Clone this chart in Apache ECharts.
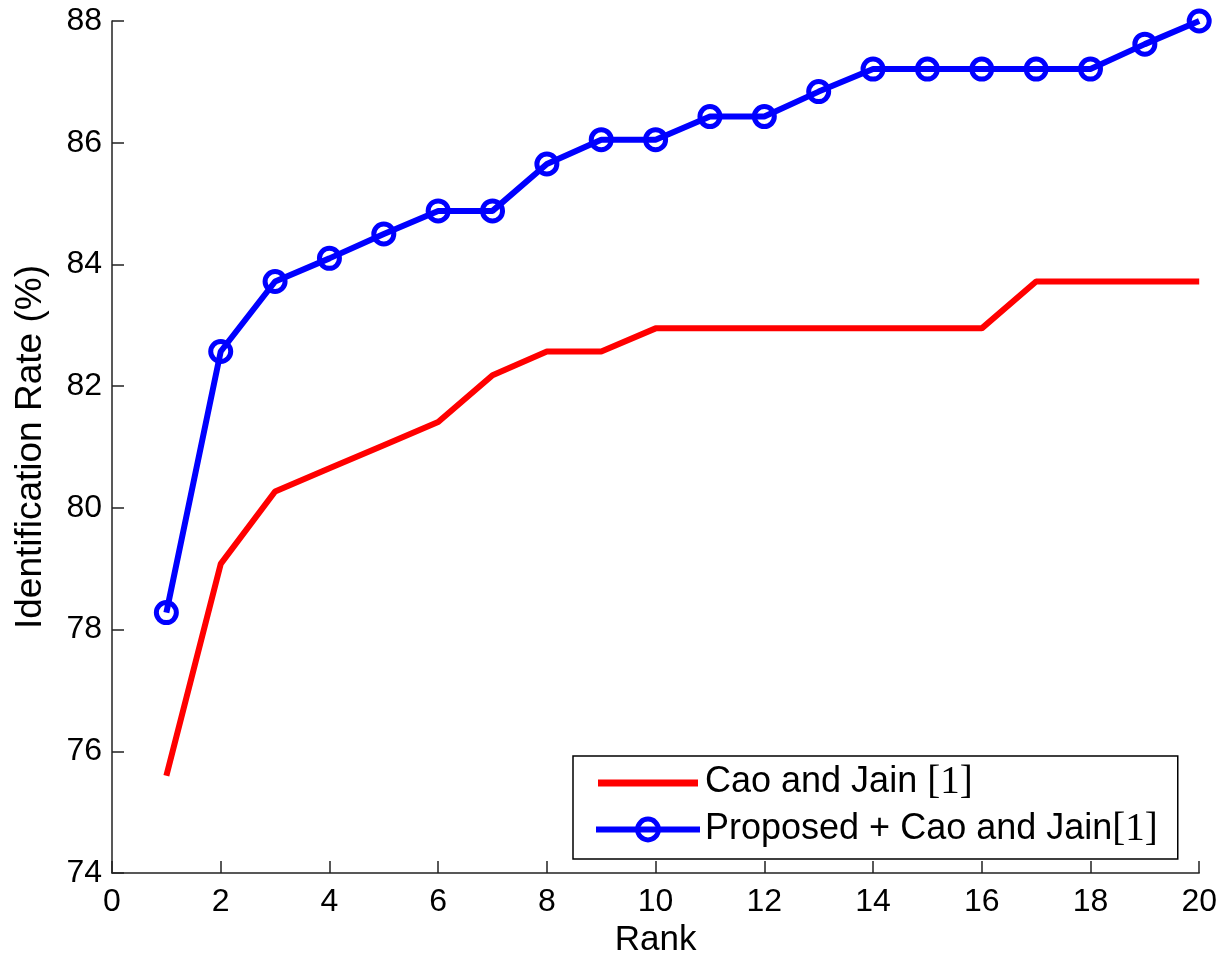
<!DOCTYPE html>
<html>
<head>
<meta charset="utf-8">
<script src="https://cdn.jsdelivr.net/npm/echarts@6/dist/echarts.min.js"></script>
<style>
html,body{margin:0;padding:0;background:#fff;}
#chart{width:1220px;height:963px;}
</style>
</head>
<body>
<div id="chart"></div>
<script>
const ranks = [1,2,3,4,5,6,7,8,9,10,11,12,13,14,15,16,17,18,19,20];
const caoJain = [75.6, 79.08, 80.27, 80.65, 81.03, 81.41, 82.18, 82.57, 82.57, 82.95, 82.95, 82.95, 82.95, 82.95, 82.95, 82.95, 83.72, 83.72, 83.72, 83.72];
const proposed = [78.28, 82.57, 83.72, 84.10, 84.50, 84.88, 84.88, 85.65, 86.05, 86.05, 86.43, 86.43, 86.84, 87.21, 87.21, 87.21, 87.21, 87.21, 87.62, 88.0];
const seriesNames = ['Cao and Jain [1]', 'Proposed + Cao and Jain[1]'];
const xLabel = 'Rank';
const yLabel = 'Identification Rate (%)';

const chart = echarts.init(document.getElementById('chart'), null, {renderer: 'canvas'});
const sans = 'Liberation Sans, Arial, Helvetica, sans-serif';
const axisCommon = {
  axisLine: {show: true, onZero: false, lineStyle: {color: '#222', width: 1.5}},
  axisTick: {show: true, inside: true, length: 12, lineStyle: {color: '#222', width: 1.5}},
  splitLine: {show: false},
  axisLabel: {color: '#000', fontSize: 32, fontFamily: sans},
  nameTextStyle: {color: '#000', fontSize: 35, fontFamily: sans}
};
chart.setOption({
  animation: false,
  backgroundColor: '#fff',
  grid: {left: 112, right: 20, top: 21, bottom: 87, containLabel: false},
  xAxis: Object.assign({}, axisCommon, {
    type: 'value', min: 0, max: 20, interval: 2,
    name: xLabel, nameLocation: 'middle', nameGap: 49,
    axisLabel: Object.assign({}, axisCommon.axisLabel, {margin: 13})
  }),
  yAxis: Object.assign({}, axisCommon, {
    type: 'value', min: 74, max: 88, interval: 2,
    name: yLabel, nameLocation: 'middle', nameGap: 63, nameRotate: 90,
    nameTextStyle: {color: '#000', fontSize: 37, fontFamily: sans},
    axisLabel: Object.assign({}, axisCommon.axisLabel, {margin: 10})
  }),
  legend: {
    orient: 'vertical',
    left: 573, top: 756,
    padding: [7, 20, 10, 20],
    itemGap: 8,
    itemWidth: 104, itemHeight: 26,
    borderColor: '#000', borderWidth: 1.5,
    backgroundColor: '#fff',
    lineStyle: {width: 6},
    textStyle: {
      color: '#000', fontSize: 36, fontFamily: sans,
      rich: {
        a: {fontSize: 36, fontFamily: sans, color: '#000'},
        b: {fontSize: 39, fontFamily: 'Liberation Serif, Times New Roman, serif', color: '#000'}
      }
    },
    formatter: function (name) {
      const i = name.indexOf('[');
      return '{a|' + name.slice(0, i) + '}{b|' + name.slice(i) + '}';
    },
    data: [
      {name: seriesNames[0], icon: 'path://M0,0 M0,10 L100,10 L100,17 L0,17 Z M100,26', itemStyle: {color: '#ff0000', borderWidth: 0}},
      {name: seriesNames[1], itemStyle: {color: 'rgba(255,255,255,0)', borderColor: '#0000ff', borderWidth: 5}}
    ]
  },
  series: [
    {
      name: seriesNames[0], type: 'line',
      data: ranks.map((r, i) => [r, caoJain[i]]),
      symbol: 'none', showSymbol: false,
      lineStyle: {color: '#ff0000', width: 6},
      itemStyle: {color: '#ff0000'},
      clip: false
    },
    {
      name: seriesNames[1], type: 'line',
      data: ranks.map((r, i) => [r, proposed[i]]),
      symbol: 'circle', symbolSize: 20,
      lineStyle: {color: '#0000ff', width: 6},
      itemStyle: {color: 'rgba(255,255,255,0)', borderColor: '#0000ff', borderWidth: 5},
      clip: false, z: 3
    }
  ]
});
</script>
</body>
</html>
